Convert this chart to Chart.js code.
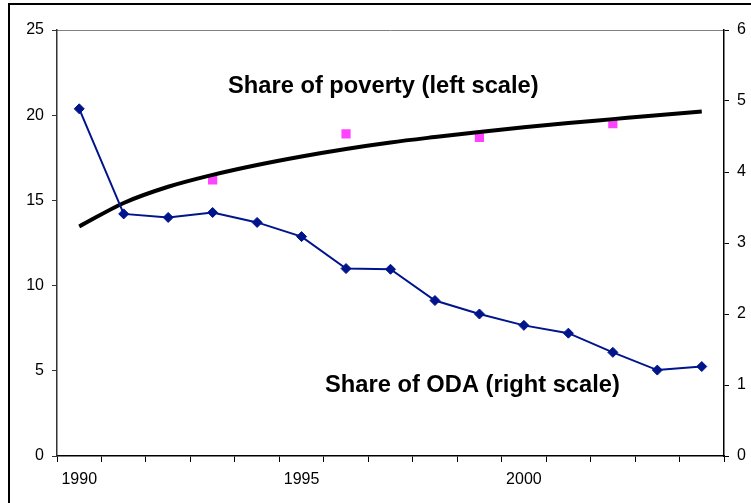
<!DOCTYPE html>
<html>
<head>
<meta charset="utf-8">
<script src="https://cdn.jsdelivr.net/npm/chart.js@4/dist/chart.umd.min.js"></script>
<style>
  html, body { margin: 0; padding: 0; background: #fff; }
  #wrap { width: 751px; height: 503px; position: relative; }
</style>
</head>
<body>
<div id="wrap"><canvas id="grafico"></canvas></div>
<script>
// años del eje x
const anios = ['1990','1991','1992','1993','1994','1995','1996','1997','1998','1999','2000','2001','2002','2003','2004'];
// participación en AOD (escala derecha)
const shareODA = [4.89, 3.41, 3.36, 3.43, 3.29, 3.09, 2.64, 2.63, 2.19, 2.00, 1.84, 1.73, 1.46, 1.21, 1.26];
// participación en pobreza, puntos observados (escala izquierda)
const sharePoverty = [null, null, null, 16.2, null, null, 18.9, null, null, 18.7, null, null, 19.5, null, null];
// tendencia de pobreza (escala izquierda)
const tendencia = [13.47, 14.85, 15.8, 16.5, 17.08, 17.58, 18.02, 18.4, 18.72, 19.02, 19.29, 19.54, 19.77, 20.0, 20.22];
const ticksIzq = [0, 5, 10, 15, 20, 25];
const ticksDer = [0, 1, 2, 3, 4, 5, 6];

const fuente = { family: 'Liberation Sans, Arial, sans-serif', size: 16 };

const marco = {
    id: 'marco',
    beforeDraw(chart) {
        const c = chart.ctx, a = chart.chartArea;
        c.save();
        c.strokeStyle = '#000'; c.lineWidth = 2;
        c.strokeRect(9, 4, 760, 520);
        c.strokeStyle = '#808080'; c.lineWidth = 1;
        c.beginPath(); c.moveTo(a.left, a.top + 0.5); c.lineTo(a.right, a.top + 0.5); c.stroke();
        c.restore();
    },
    afterDraw(chart) {
        const c = chart.ctx;
        c.save();
        c.fillStyle = '#000';
        c.font = 'bold 23.7px Liberation Sans, Arial, sans-serif';
        c.textBaseline = 'middle';
        c.fillText('Share of poverty (left scale)', 228, 86);
        c.fillText('Share of ODA (right scale)', 325, 385);
        c.restore();
    }
};

new Chart(document.getElementById('grafico'), {
    type: 'line',
    data: {
        labels: anios,
        datasets: [
            { label: 'Tendencia', data: tendencia, yAxisID: 'yIzq', borderColor: '#000', borderWidth: 4,
              pointRadius: 0, cubicInterpolationMode: 'monotone', fill: false, order: 2 },
            { label: 'Share of poverty', data: sharePoverty, yAxisID: 'yIzq', showLine: false,
              pointStyle: 'rect', pointRadius: 6.5, backgroundColor: '#ff44ff', borderColor: '#ff44ff',
              borderWidth: 0, order: 3 },
            { label: 'Share of ODA', data: shareODA, yAxisID: 'yDer', borderColor: '#00148c', borderWidth: 2,
              pointStyle: 'rectRot', pointRadius: 5, backgroundColor: '#00148c', pointBorderColor: '#00148c',
              pointBorderWidth: 1, tension: 0, order: 1 }
        ]
    },
    options: {
        responsive: true,
        maintainAspectRatio: false,
        animation: false,
        layout: { padding: { top: 30, left: 0, right: 0, bottom: 0 } },
        plugins: { legend: { display: false }, tooltip: { enabled: false } },
        scales: {
            x: {
                offset: true,
                grid: { offset: true, drawOnChartArea: false, tickLength: 6, color: '#000' },
                border: { color: '#000', width: 1.5 },
                ticks: { color: '#000', font: fuente, padding: 8, maxRotation: 0, autoSkip: false,
                         callback: (v, i) => (i % 5 === 0 ? anios[i] : '') },
                afterFit: s => { s.height = 47; }
            },
            yIzq: {
                position: 'left', min: 0, max: 25,
                afterBuildTicks: s => { s.ticks = ticksIzq.map(v => ({ value: v })); },
                grid: { drawOnChartArea: false, tickLength: 5, color: '#333' },
                border: { color: '#333', width: 1.5 },
                ticks: { color: '#000', font: fuente, padding: 8 },
                afterFit: s => { s.width = 57; }
            },
            yDer: {
                position: 'right', min: 0, max: 6,
                afterBuildTicks: s => { s.ticks = ticksDer.map(v => ({ value: v })); },
                grid: { drawOnChartArea: false, tickLength: 5, color: '#000' },
                border: { color: '#000', width: 1.5 },
                ticks: { color: '#000', font: fuente, padding: 8 },
                afterFit: s => { s.width = 27; }
            }
        }
    },
    plugins: [marco]
});
</script>
</body>
</html>
